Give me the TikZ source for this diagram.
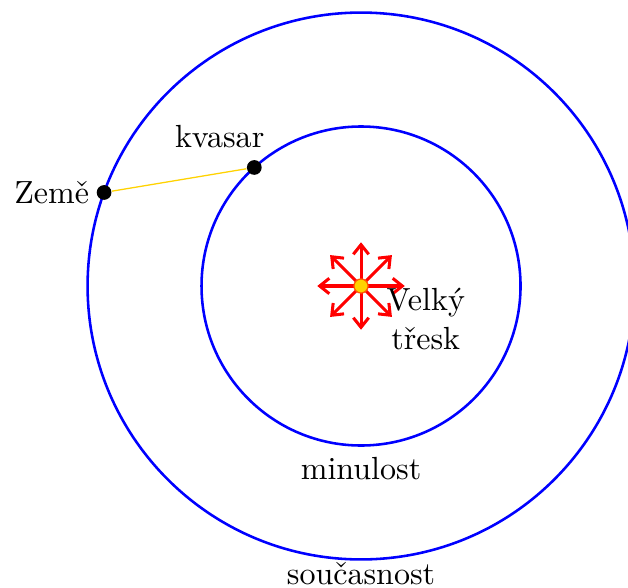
\documentclass[tikz,border=0pt]{standalone}
\usetikzlibrary{arrows.meta}
\definecolor{gold}{RGB}{255,210,0}
\begin{document}
\begin{tikzpicture}[
  orbit/.style={blue, thick},
  ray/.style={red, line width=0.95pt, -{Straight Barb[length=3pt,width=4.8pt]}},
  dotmark/.style={circle, fill=black, inner sep=0pt, minimum size=4.6pt}
]
\useasboundingbox (-3.961,-3.313) rectangle (2.929,3.138);
\clip (-3.961,-3.313) rectangle (2.929,3.138);
\coordinate (O) at (0,0);
\draw[orbit] (O) circle (1.75cm);
\draw[orbit] (O) circle (3cm);
\node[below] (past) at (0,-1.75) {minulost};
\node[anchor=base, inner sep=0pt] (now) at (0,-3.27) {současnost};
\node[dotmark] (earth) at (160:3) {};
\node[dotmark] (quasar) at (132:1.75) {};
\draw[gold, thin] (earth) -- (quasar);
\node[left, inner sep=2pt] (earthlbl) at (earth.west) {Země};
\node[anchor=south] (quasarlbl) at ([shift={(-0.38,0)}]quasar.north) {kvasar};
\foreach \a in {0,45,...,315} {
  \coordinate (tip\a) at (\a:0.48);
  \draw[ray] (O) -- (tip\a);
}
\node[circle, fill=gold, draw=orange!70!red, thin, inner sep=0pt, minimum size=4.4pt] (bang) at (O) {};
\node[align=center] (bbl) at (0.71,-0.36) {Velký\\třesk};
\end{tikzpicture}
\end{document}
